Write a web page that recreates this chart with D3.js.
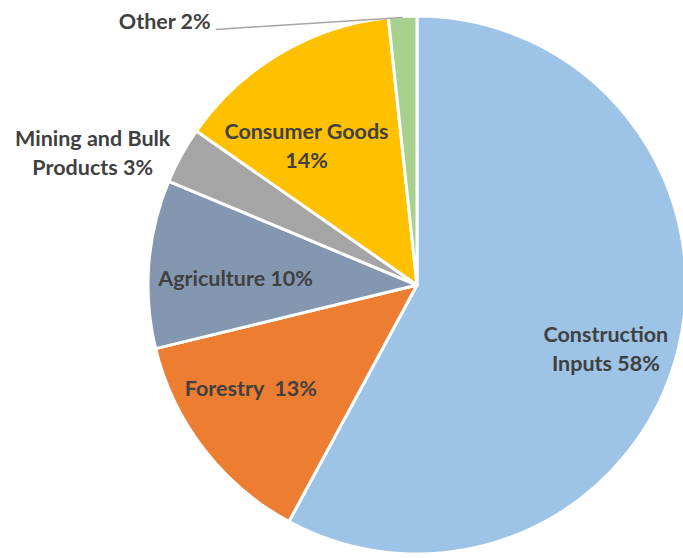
<!DOCTYPE html>
<html>
<head>
<meta charset="utf-8">
<title>Freight by commodity</title>
<script src="https://cdn.jsdelivr.net/npm/d3@7"></script>
<style>
  body { margin: 0; background: #fff; }
  text { font-family: Lato, "Open Sans", sans-serif; font-weight: bold; fill: #404040; }
</style>
</head>
<body>
<div id="chart"></div>
<script>
// slice data, clockwise from 12 o'clock
const categories = ["Construction Inputs", "Forestry", "Agriculture", "Mining and Bulk Products", "Consumer Goods", "Other"];
const shares = [57.9, 13.3, 10.1, 3.4, 13.6, 1.7];
const labelLines = [
  ["Construction", "Inputs 58%"],
  ["Forestry  13%"],
  ["Agriculture 10%"],
  ["Mining and Bulk", "Products 3%"],
  ["Consumer Goods", "14%"],
  ["Other 2%"]
];
const colors = ["#9DC3E6", "#ED7D31", "#8497B0", "#A5A5A5", "#FFC000", "#A9D18E"];

const width = 683, height = 558;
const cx = 417, cy = 285, radius = 269;

// label placement: radius along slice middle, then nudge
const labelLayout = [
  { r: 200, dx: -5, dy: 15 },
  { r: 196, dx: -11, dy: -16 },
  { r: 182, dx: 0, dy: 8 },
  { r: 345, dx: -22, dy: 34 },
  { r: 170, dx: -24, dy: 7 },
  { r: 0, dx: 0, dy: 0 }
];

const svg = d3.select("#chart").append("svg")
  .attr("width", width)
  .attr("height", height);

const g = svg.append("g").attr("transform", `translate(${cx},${cy})`);

const pie = d3.pie().sort(null).value(d => d);
const arcs = pie(shares);
const arc = d3.arc().innerRadius(0).outerRadius(radius);

g.selectAll("path.slice")
  .data(arcs)
  .enter().append("path")
  .attr("class", "slice")
  .attr("d", arc)
  .attr("fill", (d, i) => colors[i])
  .attr("stroke", "#fff")
  .attr("stroke-width", 3)
  .attr("stroke-linejoin", "round");

const fontSize = 21.5, lineH = 29;

arcs.forEach(function(a, i) {
  if (i === 5) return;
  const L = labelLayout[i];
  const mid = (a.startAngle + a.endAngle) / 2;
  const x = Math.sin(mid) * L.r + L.dx;
  const y = -Math.cos(mid) * L.r + L.dy;
  const lines = labelLines[i];
  const t = g.append("text")
    .attr("text-anchor", "middle")
    .attr("font-size", fontSize)
    .style("white-space", "pre");
  lines.forEach(function(s, k) {
    t.append("tspan")
      .attr("x", x)
      .attr("y", y + (k - (lines.length - 1) / 2) * lineH)
      .attr("dy", "0.35em")
      .text(s);
  });
});

// "Other" label with leader line
const other = arcs[5];
const om = (other.startAngle + other.endAngle) / 2;
const edge = [Math.sin(om) * (radius - 1), -Math.cos(om) * (radius - 1)];
const lineEnd = [edge[0] - 187, edge[1] + 12];
g.append("line")
  .attr("x1", edge[0]).attr("y1", edge[1])
  .attr("x2", lineEnd[0]).attr("y2", lineEnd[1])
  .attr("stroke", "#A6A6A6")
  .attr("stroke-width", 1.5);
g.append("text")
  .attr("x", lineEnd[0] - 5)
  .attr("y", lineEnd[1] - 8)
  .attr("dy", "0.35em")
  .attr("text-anchor", "end")
  .attr("font-size", fontSize)
  .text(labelLines[5][0]);
</script>
</body>
</html>
